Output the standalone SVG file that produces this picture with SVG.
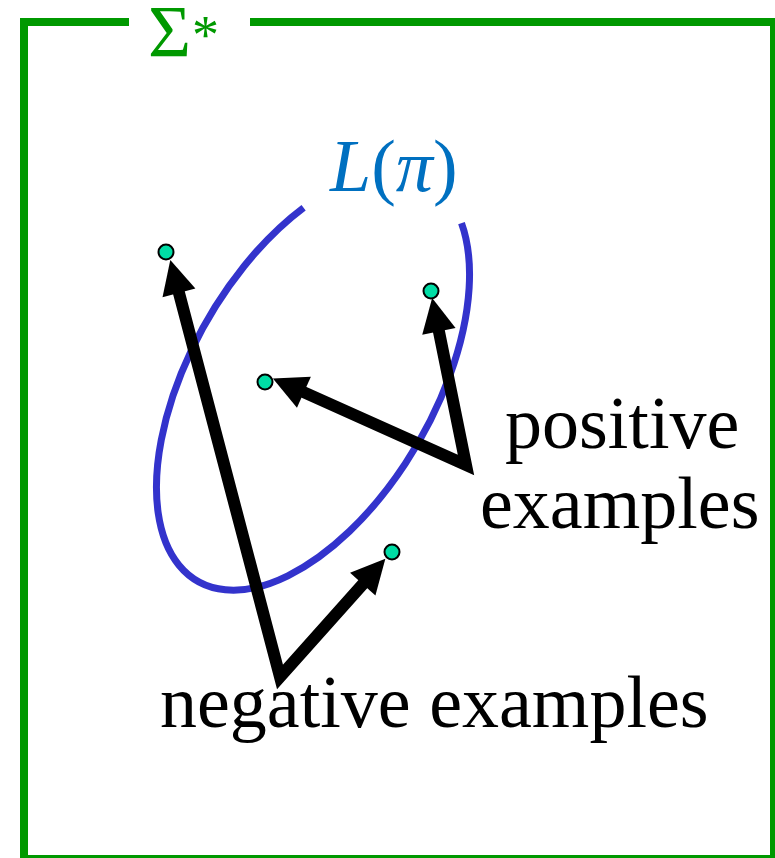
<svg xmlns="http://www.w3.org/2000/svg" width="775" height="858" viewBox="0 0 775 858">
  <defs>
    <style>
      .frame { fill: none; stroke: #009900; stroke-width: 8; }
      .lang { fill: none; stroke: #3333CC; stroke-width: 7; }
      .arrow { fill: none; stroke: #000; stroke-width: 12; stroke-linejoin: miter; stroke-miterlimit: 10; marker-start: url(#head); marker-end: url(#head); }
      .dot { fill: #00DDA5; stroke: #000; stroke-width: 2; }
      .lbl { font-family: "Liberation Serif", "Times New Roman", serif; font-size: 74px; fill: #000; }
    </style>
    <marker id="head" markerUnits="userSpaceOnUse" markerWidth="40" markerHeight="40" viewBox="-2 -20 40 40" refX="1" refY="0" orient="auto-start-reverse">
      <path d="M0,-17 L34,0 L0,17 z" fill="#000"/>
    </marker>
  </defs>
  <g id="frame">
    <path class="frame" d="M129,22 H24 V859 H774 V22 H250"/>
    <text x="148" y="57" font-family="Liberation Serif, serif" font-size="74" fill="#009900">Σ<tspan x="192" y="53" font-size="54">*</tspan></text>
  </g>
  <g id="language">
    <path class="lang" d="M461.5,223.1 A231,122 -60 1 1 303.6,207.7"/>
    <text x="330" y="191" font-family="Liberation Serif, serif" font-size="74" fill="#0070C0"><tspan font-style="italic">L</tspan>(<tspan font-style="italic">π</tspan>)</text>
  </g>
  <g id="connectors">
    <path class="arrow" d="M178.7,291.9 L280,677 L363.4,583.4"/>
    <path class="arrow" d="M438.7,330.3 L466,465 L303,391.9"/>
  </g>
  <g id="dots">
    <circle class="dot" cx="166" cy="252" r="7.5"/>
    <circle class="dot" cx="431" cy="291" r="7.5"/>
    <circle class="dot" cx="265" cy="382" r="7.5"/>
    <circle class="dot" cx="392" cy="552" r="7.5"/>
  </g>
  <g id="positive-label">
    <text class="lbl" x="505" y="448">positive</text>
    <text class="lbl" x="480" y="528">examples</text>
  </g>
  <g id="negative-label">
    <text class="lbl" x="160" y="727">negative examples</text>
  </g>
</svg>
